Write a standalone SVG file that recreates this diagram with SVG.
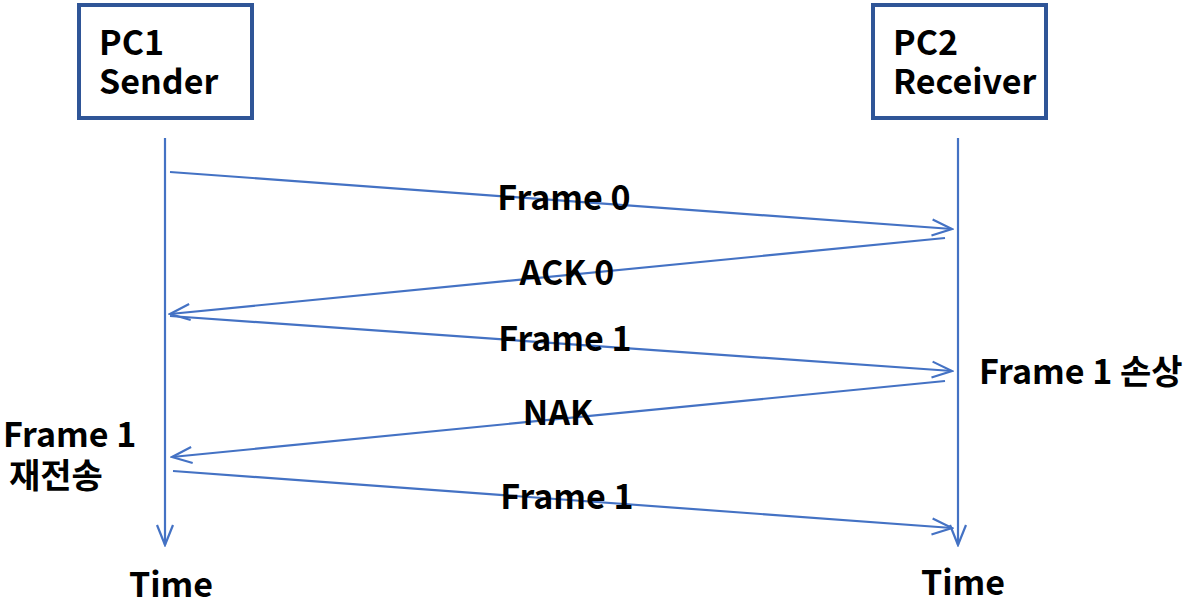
<svg xmlns="http://www.w3.org/2000/svg" width="1184" height="605" viewBox="0 0 1184 605">
<style>
.t{font-family:"Noto Sans CJK KR","Noto Sans",sans-serif;font-weight:bold;font-size:34px;fill:#000}
.box{fill:#fff;stroke:#2F5597;stroke-width:4}
.ln{stroke:#4472C4;stroke-width:2.2;fill:none}
</style>
<defs>
<marker id="ah" markerWidth="24" markerHeight="20" refX="22" refY="10" orient="auto" markerUnits="userSpaceOnUse">
<path d="M2,2 L22,10 L2,18" fill="none" stroke="#4472C4" stroke-width="2.2"/>
</marker>
</defs>
<rect width="1184" height="605" fill="#fff"/>
<g id="pc1">
<rect class="box" x="79" y="5" width="173" height="113"/>
<text class="t" x="99" y="55">PC1</text>
<text class="t" x="99" y="94">Sender</text>
</g>
<g id="pc2">
<rect class="box" x="873" y="5" width="173" height="113"/>
<text class="t" x="893" y="55">PC2</text>
<text class="t" x="893" y="94">Receiver</text>
</g>
<g id="connectors">
<line class="ln" x1="165" y1="138" x2="165" y2="545" marker-end="url(#ah)"/>
<line class="ln" x1="958" y1="138" x2="958" y2="545" marker-end="url(#ah)"/>
<line class="ln" x1="170" y1="172" x2="952" y2="229" marker-end="url(#ah)"/>
<line class="ln" x1="945" y1="238" x2="170" y2="314" marker-end="url(#ah)"/>
<line class="ln" x1="170" y1="316" x2="952" y2="371" marker-end="url(#ah)"/>
<line class="ln" x1="945" y1="381" x2="172" y2="457" marker-end="url(#ah)"/>
<line class="ln" x1="173" y1="471" x2="952" y2="528" marker-end="url(#ah)"/>
</g>
<g id="labels">
<text class="t" x="564" y="210" text-anchor="middle">Frame 0</text>
<text class="t" x="567" y="285" text-anchor="middle">ACK 0</text>
<text class="t" x="565" y="351" text-anchor="middle">Frame 1</text>
<text class="t" x="558" y="425" text-anchor="middle">NAK</text>
<text class="t" x="567" y="509" text-anchor="middle">Frame 1</text>
<text class="t" x="979" y="384">Frame 1 손상</text>
<text class="t" x="3" y="447">Frame 1</text>
<text class="t" x="9" y="488">재전송</text>
<text class="t" x="129" y="597">Time</text>
<text class="t" x="921" y="595">Time</text>
</g>
</svg>
